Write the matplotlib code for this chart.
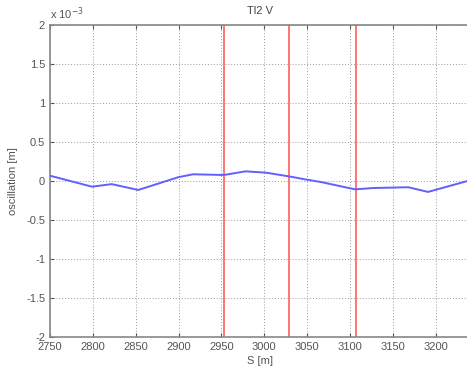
import matplotlib.pyplot as plt
from matplotlib.ticker import FuncFormatter

plt.rcParams['font.family'] = ['Liberation Sans', 'DejaVu Sans']

# position along the line [m] and vertical oscillation [x 1e-3 m]
s_pos = [2750, 2799, 2822, 2853, 2900, 2917, 2953, 2978, 3002, 3031, 3048, 3066,
         3106, 3127, 3168, 3191, 3237]
osc = [0.068, -0.073, -0.04, -0.115, 0.05, 0.086, 0.077, 0.124, 0.107, 0.055, 0.02,
       -0.013, -0.107, -0.09, -0.08, -0.14, 0.0]

# element positions [m]
markers = [2952.5, 3029, 3107.5]

fig = plt.figure(figsize=(4.67, 3.70), dpi=100)
ax = fig.add_axes([50 / 467, 33 / 370, 420 / 467, 312 / 370])

for m in markers:
    ax.axvline(m, color='#ff7575', lw=1.4, zorder=2)
ax.plot(s_pos, osc, color='#6060ff', lw=1.4, zorder=3)

ax.set_xlim(2750, 3240)
ax.set_ylim(-2, 2)
ax.set_xticks(range(2750, 3201, 50))
ax.set_yticks([-2, -1.5, -1, -0.5, 0, 0.5, 1, 1.5, 2])
ax.yaxis.set_major_formatter(FuncFormatter(lambda v, p: f'{v:g}'))

ax.grid(True, linestyle=(0, (1, 2)), color='#999999', lw=0.7)
ax.tick_params(direction='in', length=3, labelsize=8, colors='#555555',
               top=True, right=False)
for sp in ax.spines.values():
    sp.set_color('#888888')
    sp.set_linewidth(1.2)

ax.set_title('Tl2 V', fontsize=8, color='#444444', pad=8)
ax.set_xlabel('S [m]', fontsize=8, color='#555555', labelpad=3)
ax.set_ylabel('oscillation [m]', fontsize=8, color='#555555', labelpad=6)
ax.text(0.0, 1.01, r'x 10$^{-3}$', transform=ax.transAxes, fontsize=8,
        color='#555555', ha='left', va='bottom')

fig.savefig('out.png', dpi=100)
